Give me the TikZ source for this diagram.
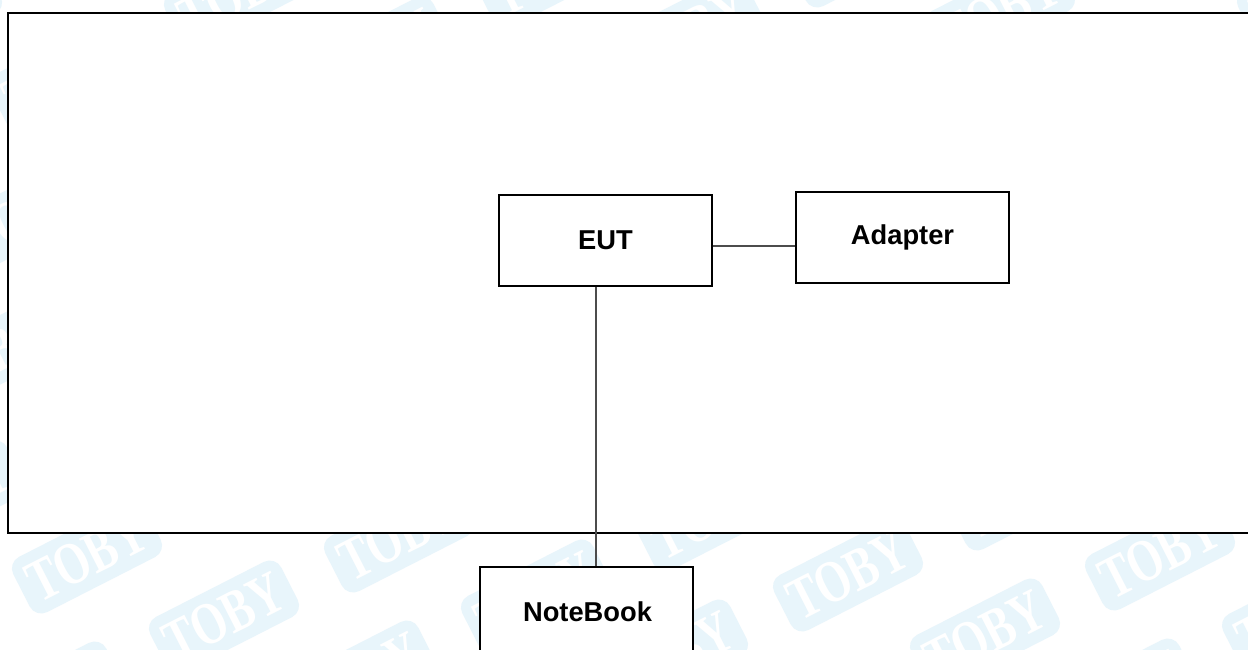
\documentclass[tikz,border=0pt]{standalone}
\usepackage{fontspec}
\setmainfont{Liberation Sans}
\newfontfamily\stampfont{Liberation Serif}
\definecolor{wm}{RGB}{232,245,251}
\tikzset{
  x=1pt,y=-1pt,
  boxnode/.style={draw=black,line width=1.6pt,fill=white,minimum width=#1,inner sep=0pt,font=\fontsize{27.3}{30}\selectfont\bfseries},
  wire/.style={draw=black!70,line width=1.3pt},
  stamp/.style={fill=wm,rounded corners=13pt,rotate=27,minimum width=147pt,minimum height=62pt,inner sep=0pt,text=white,font=\stampfont\fontsize{50}{50}\selectfont\bfseries},
}
\begin{document}
\begin{tikzpicture}
\useasboundingbox (0,0) rectangle (1248,649);
\fill[white] (0,0) rectangle (1248,649);
% watermark lattice, with only the stamps that show outside the frame
\foreach \mm in {-10,...,3}{
  \foreach \nn in {-1,...,9}{
    \pgfmathtruncatemacro{\px}{87+137*\mm+312*\nn}
    \pgfmathtruncatemacro{\py}{557+60*\mm-21*\nn}
    \pgfmathtruncatemacro{\vis}{and(and(\px>-78,\px<1326),and(\py>-60,\py<712))*(1-and(and(\px>86,\py>75),\py<470))}
    \ifnum\vis=1
      \node[stamp] (wm\mm x\nn) at (\px,\py) {\scalebox{.9}[1.2]{TOBY}};
    \fi
  }
}
% frame
\draw[fill=white,draw=black,line width=2pt] (8,13) -- (1260,13) -- (1260,533) -- (8,533) -- cycle;
% boxes
\node[boxnode=213pt,minimum height=91pt] (eut) at (605.5,240.5) {EUT};
\node[boxnode=213pt,minimum height=91pt] (adapter) at (902.5,237.5) {Adapter};
\node[boxnode=213pt,minimum height=120pt,anchor=north] (notebook) at (586.5,566) {};
\node[font=\fontsize{27.3}{30}\selectfont\bfseries] (nblabel) at (587.5,612) {NoteBook};
\draw[wire] (eut.east |- 0,246) -- (adapter.west |- 0,246);
\draw[wire] (eut.south -| 596,0) -- (notebook.north -| 596,0);
\end{tikzpicture}
\end{document}
